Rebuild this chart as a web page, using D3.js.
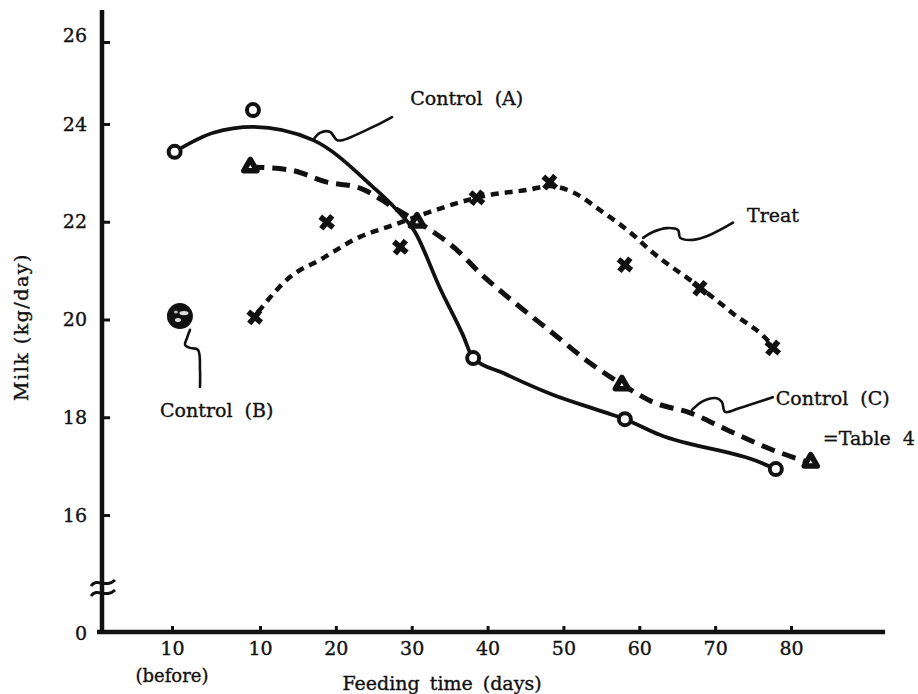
<!DOCTYPE html>
<html><head><meta charset="utf-8">
<script src="https://cdn.jsdelivr.net/npm/d3@7"></script>
<style>
html,body{margin:0;padding:0;background:#fff;}
svg{display:block;}
text{font-family:"DejaVu Serif","Liberation Serif",serif;fill:#111;stroke:#111;stroke-width:0.35px;}
</style></head><body>
<svg id="chart" width="918" height="694"></svg>
<script>
// ---------- data (day 0 = "10 days before") ----------
const xTickValues = [0, 10, 20, 30, 40, 50, 60, 70, 80];
const xTickLabels = ["10", "10", "20", "30", "40", "50", "60", "70", "80"];
const yTickValues = [0, 16, 18, 20, 22, 24, 26];

// measured points
const controlA_days = [0.3, 9.2, 38.1, 58.1, 78.0];
const controlA_milk = [23.43, 24.34, 19.21, 17.96, 16.94];
const controlB_days = [0.9];
const controlB_milk = [20.07];
const controlC_days = [8.9, 30.7, 57.7, 82.6];
const controlC_milk = [23.12, 21.99, 18.66, 17.08];
const treat_days = [9.4, 18.8, 28.5, 38.6, 48.2, 58.1, 68.0, 77.6];
const treat_milk = [20.05, 21.99, 21.48, 22.49, 22.81, 21.12, 20.64, 19.42];

// hand-drawn smoothed curves
const curveA_days = [0.3, 4.7, 9.2, 17.0, 24.9, 27.8, 30.43, 33.73, 36.76, 38.1, 42.0, 48.6, 55.7, 58.1, 62.7, 75.9, 78.0];
const curveA_milk = [23.43, 23.82, 23.94, 23.67, 22.71, 22.28, 21.79, 20.64, 19.68, 19.21, 18.91, 18.46, 18.09, 17.96, 17.64, 17.08, 16.94];
const curveC_days = [8.9, 13.95, 18.83, 23.18, 27.53, 31.09, 35.97, 39.0, 43.6, 48.6, 53.5, 57.85, 61.8, 66.7, 71.6, 77.6, 82.7];
const curveC_milk = [23.12, 23.06, 22.81, 22.69, 22.30, 21.97, 21.42, 20.95, 20.34, 19.72, 19.11, 18.66, 18.31, 18.09, 17.74, 17.33, 17.06];
const curveT_days = [9.77, 13.95, 17.91, 23.18, 27.53, 32.0, 35.97, 40.3, 45.2, 48.2, 51.3, 54.8, 59.2, 61.4, 68.0, 72.3, 77.2, 78.1];
const curveT_milk = [20.15, 20.87, 21.22, 21.69, 21.93, 22.18, 22.38, 22.55, 22.65, 22.73, 22.60, 22.24, 21.73, 21.42, 20.66, 20.13, 19.52, 19.34];

// annotation leaders and labels
const leaderA_days = [17.0, 17.9, 19.2, 20.15, 20.9, 24.9, 27.4];
const leaderA_milk = [23.67, 23.82, 23.84, 23.67, 23.67, 23.94, 24.17];
const leaderB_days = [2.05, 1.7, 1.48, 2.05, 2.95, 3.18, 3.18];
const leaderB_milk = [19.79, 19.62, 19.48, 19.42, 19.38, 18.97, 18.62];
const leaderC_days = [66.95, 68.4, 70.2, 70.9, 71.3, 73.25, 77.6];
const leaderC_milk = [18.15, 18.33, 18.39, 18.31, 18.11, 18.19, 18.41];
const leaderT_days = [60.5, 61.8, 63.65, 65.1, 65.4, 67.1, 69.3, 72.35];
const leaderT_milk = [21.67, 21.79, 21.87, 21.83, 21.67, 21.63, 21.73, 21.98];
const labelTexts = ["Control (A)", "Control (B)", "Control (C)", "=Table 4", "Treat"];
const labelDays  = [29.8, -1.36, 78.0, 84.2, 74.2];
const labelMilk  = [24.46, 18.0, 18.25, 17.43, 21.99];

// ---------- drawing ----------
const svg = d3.select("#chart");
const x = d3.scaleLinear().domain([0, 10, 80]).range([172, 260, 791]);
const y = d3.scaleLinear().domain([0, 16, 24, 26]).range([633, 515, 124, 42]);
const axisX = 102, axisTop = 10, axisRight = 885;
const ink = "#111";

// axes
const gx = svg.append("g").attr("transform", `translate(0,${y(0) - 1})`)
  .call(d3.axisBottom(x).tickValues(xTickValues).tickFormat((d, i) => xTickLabels[i])
    .tickSize(-6).tickSizeOuter(0).tickPadding(10));
gx.select(".domain").remove();
gx.attr("font-family", null).attr("font-size", 19);
gx.selectAll(".tick line").attr("stroke", ink).attr("stroke-width", 3);
gx.selectAll(".tick text").attr("fill", ink);
gx.append("text").attr("x", x(0)).attr("y", 50).attr("text-anchor", "middle")
  .attr("font-size", 18).attr("fill", ink).text("(before)");

const gy = svg.append("g").attr("transform", `translate(${axisX},0)`)
  .call(d3.axisLeft(y).tickValues(yTickValues).tickFormat(d3.format("d"))
    .tickSize(-8).tickSizeOuter(0).tickPadding(15));
gy.select(".domain").remove();
gy.attr("font-family", null).attr("font-size", 19);
gy.selectAll(".tick line").attr("stroke", ink).attr("stroke-width", 3)
  .filter(d => d === 0).remove();
gy.selectAll(".tick text").attr("fill", ink)
  .attr("dy", d => d === 26 ? "-0.05em" : "0.32em");

svg.append("line").attr("x1", axisX).attr("x2", axisX).attr("y1", axisTop).attr("y2", y(0) + 1)
  .attr("stroke", ink).attr("stroke-width", 4.5);
svg.append("line").attr("x1", axisX - 5).attr("x2", axisRight).attr("y1", y(0) - 1).attr("y2", y(0) - 1)
  .attr("stroke", ink).attr("stroke-width", 4.5);

// axis break
const bY = 588;
[-5, 5].forEach(o => {
  svg.append("path")
    .attr("d", `M${axisX - 11},${bY + o + 3} C${axisX - 5},${bY + o - 6} ${axisX + 4},${bY + o + 6} ${axisX + 13},${bY + o - 3}`)
    .attr("fill", "none").attr("stroke", ink).attr("stroke-width", 3);
});

// titles
svg.append("text").attr("transform", "translate(28,327) rotate(-90)")
  .attr("text-anchor", "middle").attr("font-size", 19).attr("letter-spacing", 1.5)
  .text("Milk (kg/day)");
svg.append("text").attr("x", 442).attr("y", 690).attr("text-anchor", "middle")
  .attr("font-size", 19).attr("word-spacing", 4).text("Feeding time (days)");

// curves
const pairs = (a, b) => a.map((d, i) => [d, b[i]]);
const mono = d3.line().x(d => x(d[0])).y(d => y(d[1])).curve(d3.curveMonotoneX);
const smooth = d3.line().x(d => x(d[0])).y(d => y(d[1])).curve(d3.curveCatmullRom.alpha(0.5));

svg.append("path").attr("d", mono(pairs(curveT_days, curveT_milk)))
  .attr("fill", "none").attr("stroke", ink).attr("stroke-width", 4.5).attr("stroke-dasharray", "8,6");
svg.append("path").attr("d", mono(pairs(curveC_days, curveC_milk)))
  .attr("fill", "none").attr("stroke", ink).attr("stroke-width", 5).attr("stroke-dasharray", "14,8");
svg.append("path").attr("d", mono(pairs(curveA_days, curveA_milk)))
  .attr("fill", "none").attr("stroke", ink).attr("stroke-width", 3.8).attr("stroke-linecap", "round");

// leaders
[[leaderA_days, leaderA_milk], [leaderB_days, leaderB_milk], [leaderC_days, leaderC_milk], [leaderT_days, leaderT_milk]]
  .forEach(([a, b]) => {
    svg.append("path").attr("d", smooth(pairs(a, b)))
      .attr("fill", "none").attr("stroke", ink).attr("stroke-width", 2.6).attr("stroke-linecap", "round");
  });

// markers
svg.selectAll(".ptA").data(pairs(controlA_days, controlA_milk)).join("circle")
  .attr("cx", d => x(d[0])).attr("cy", d => y(d[1])).attr("r", 6)
  .attr("fill", "#fff").attr("stroke", ink).attr("stroke-width", 4);

svg.selectAll(".ptC").data(pairs(controlC_days, controlC_milk)).join("path")
  .attr("transform", d => `translate(${x(d[0])},${y(d[1])})`)
  .attr("d", d3.symbol(d3.symbolTriangle, 75)())
  .attr("fill", "#fff").attr("stroke", ink).attr("stroke-width", 5.5).attr("stroke-linejoin", "round");

svg.selectAll(".ptT").data(pairs(treat_days, treat_milk)).join("path")
  .attr("transform", d => `translate(${x(d[0])},${y(d[1])}) rotate(40)`)
  .attr("d", d3.symbol(d3.symbolCross, 160)())
  .attr("fill", ink);

const gB = svg.selectAll(".ptB").data(pairs(controlB_days, controlB_milk)).join("g")
  .attr("transform", d => `translate(${x(d[0])},${y(d[1])})`);
gB.append("circle").attr("r", 12).attr("fill", ink).attr("stroke", ink).attr("stroke-width", 2);
gB.append("ellipse").attr("cx", 4).attr("cy", -3).attr("rx", 4.5).attr("ry", 2.2).attr("fill", "#fff").attr("opacity", 0.85);
gB.append("ellipse").attr("cx", -2).attr("cy", 4).attr("rx", 3).attr("ry", 2).attr("fill", "#fff").attr("opacity", 0.85);
gB.append("ellipse").attr("cx", -4).attr("cy", -4).attr("rx", 2).attr("ry", 1.5).attr("fill", "#fff").attr("opacity", 0.7);

// labels
svg.selectAll(".lbl").data(labelTexts).join("text")
  .attr("x", (d, i) => x(labelDays[i])).attr("y", (d, i) => y(labelMilk[i]))
  .attr("font-size", 19).attr("word-spacing", 6).text(d => d);
</script>
</body></html>
